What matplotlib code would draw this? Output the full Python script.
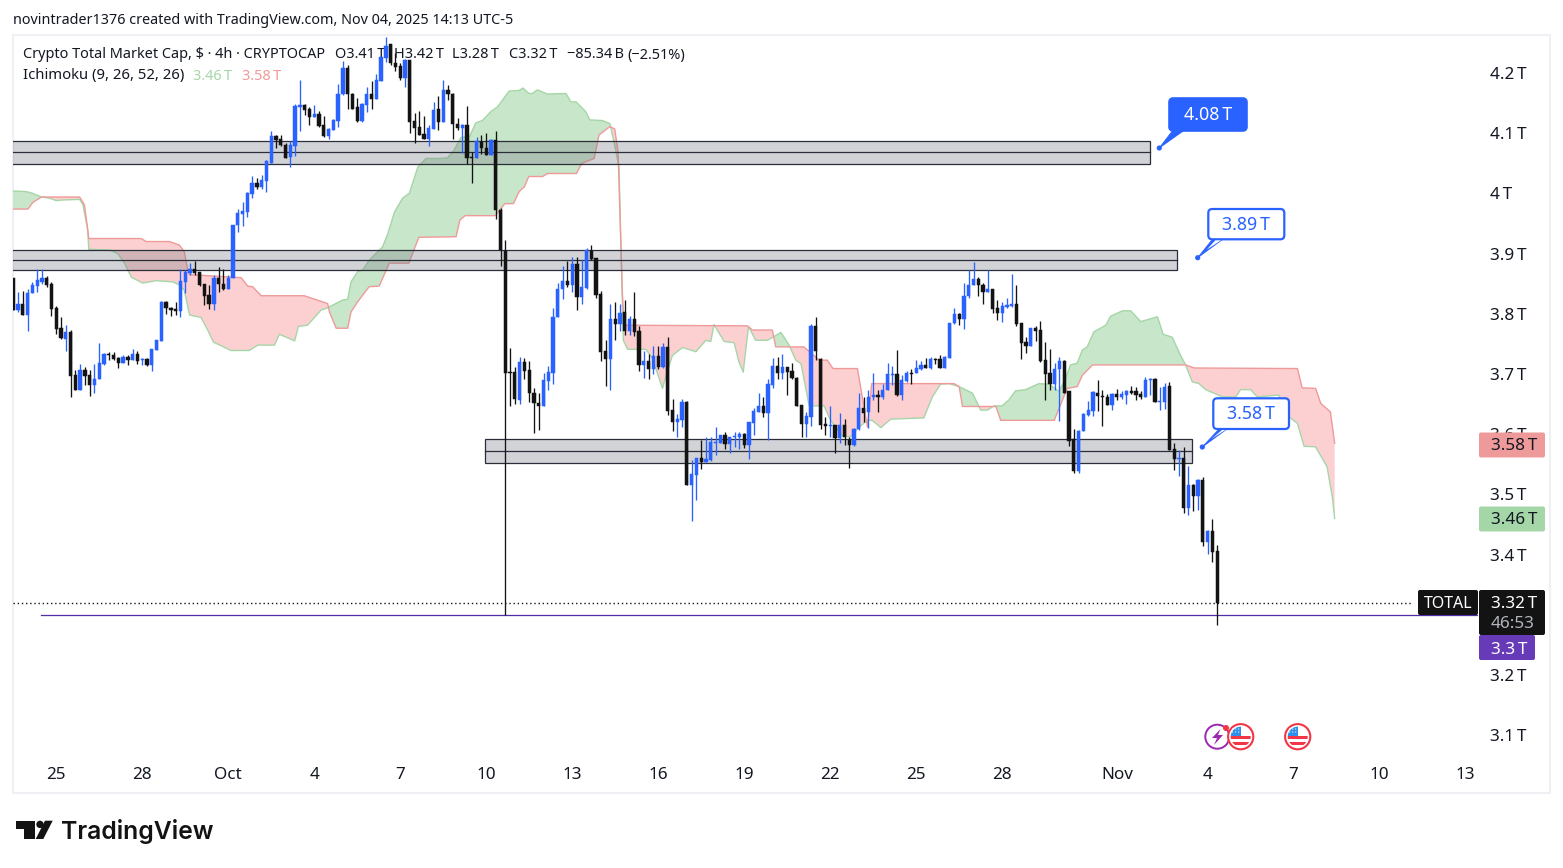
import numpy as np
import matplotlib
matplotlib.use("Agg")
import matplotlib.pyplot as plt
from matplotlib.patches import Rectangle, FancyBboxPatch, Polygon, Circle

# candles, 4h bars, values in trillions
opens = [
    3.859,3.807,3.817,3.798,3.834,3.846,3.853,3.859,3.849,3.809,
    3.776,3.758,3.770,3.698,3.674,3.707,3.698,3.681,3.692,3.716,
    3.733,3.731,3.726,3.719,3.729,3.723,3.733,3.723,3.725,3.715,
    3.740,3.755,3.820,3.810,3.808,3.804,3.853,3.867,3.874,3.869,
    3.849,3.831,3.816,3.860,3.850,3.841,3.860,3.947,3.966,3.969,
    3.999,4.017,4.011,4.021,4.051,4.096,4.090,4.081,4.060,4.079,
    4.143,4.147,4.140,4.127,4.132,4.113,4.096,4.106,4.121,4.165,
    4.208,4.165,4.143,4.121,4.147,4.165,4.157,4.187,4.225,4.248,
    4.217,4.212,4.191,4.222,4.120,4.110,4.099,4.091,4.107,4.140,
    4.118,4.172,4.165,4.116,4.109,4.113,4.061,4.058,4.085,4.076,
    4.064,4.089,3.972,3.905,3.703,3.703,3.657,3.720,3.707,3.668,
    3.652,3.647,3.689,3.702,3.794,3.841,3.854,3.848,3.883,3.828,
    3.843,3.905,3.892,3.833,3.738,3.725,3.792,3.783,3.803,3.771,
    3.792,3.771,3.715,3.722,3.708,3.730,3.712,3.744,3.640,3.621,
    3.623,3.653,3.515,3.532,3.561,3.554,3.557,3.586,3.586,3.598,
    3.584,3.595,3.596,3.601,3.582,3.618,3.637,3.646,3.636,3.682,
    3.713,3.702,3.711,3.705,3.694,3.648,3.617,3.629,3.780,3.725,
    3.617,3.614,3.616,3.593,3.615,3.591,3.582,3.608,3.643,3.637,
    3.661,3.665,3.661,3.673,3.699,3.700,3.665,3.688,3.702,3.701,
    3.709,3.715,3.710,3.725,3.725,3.710,3.727,3.784,3.800,3.791,
    3.830,3.847,3.858,3.848,3.837,3.841,3.809,3.802,3.812,3.813,
    3.817,3.784,3.753,3.746,3.777,3.773,3.723,3.701,3.684,3.708,
    3.722,3.671,3.592,3.539,3.605,3.632,3.638,3.669,3.664,3.661,
    3.648,3.667,3.662,3.665,3.671,3.671,3.667,3.662,3.690,3.692,
    3.653,3.654,3.680,3.575,3.558,3.560,3.478,3.515,3.497,3.524,
    3.421,3.439,3.406]
highs = [
    3.859,3.836,3.838,3.842,3.853,3.875,3.875,3.863,3.853,3.813,
    3.794,3.781,3.773,3.706,3.716,3.711,3.706,3.716,3.752,3.735,
    3.736,3.737,3.728,3.731,3.732,3.741,3.738,3.726,3.727,3.741,
    3.757,3.821,3.821,3.812,3.820,3.875,3.872,3.884,3.887,3.869,
    3.850,3.848,3.864,3.877,3.874,3.864,3.948,3.974,3.986,4.002,
    4.029,4.025,4.030,4.055,4.103,4.097,4.097,4.083,4.087,4.148,
    4.189,4.148,4.144,4.147,4.137,4.128,4.108,4.123,4.181,4.220,
    4.213,4.166,4.159,4.150,4.177,4.187,4.199,4.227,4.260,4.248,
    4.233,4.216,4.224,4.222,4.133,4.137,4.128,4.113,4.152,4.161,
    4.189,4.180,4.166,4.125,4.116,4.145,4.069,4.094,4.097,4.100,
    4.091,4.104,3.975,3.923,3.743,3.712,3.728,3.726,3.721,3.676,
    3.669,3.701,3.713,3.809,3.851,3.879,3.888,3.894,3.894,3.889,
    3.909,3.914,3.892,3.838,3.756,3.816,3.819,3.816,3.823,3.796,
    3.836,3.779,3.738,3.733,3.746,3.746,3.752,3.761,3.659,3.633,
    3.658,3.655,3.557,3.561,3.591,3.595,3.595,3.612,3.599,3.603,
    3.596,3.604,3.603,3.602,3.621,3.644,3.668,3.662,3.692,3.726,
    3.729,3.733,3.712,3.718,3.695,3.648,3.637,3.783,3.794,3.726,
    3.629,3.647,3.616,3.636,3.626,3.596,3.610,3.668,3.662,3.673,
    3.701,3.673,3.683,3.718,3.713,3.740,3.698,3.705,3.709,3.723,
    3.722,3.726,3.729,3.727,3.731,3.730,3.785,3.809,3.801,3.851,
    3.873,3.886,3.861,3.851,3.872,3.841,3.823,3.820,3.827,3.866,
    3.848,3.784,3.761,3.777,3.780,3.788,3.753,3.741,3.718,3.728,
    3.723,3.671,3.608,3.607,3.635,3.655,3.672,3.690,3.673,3.667,
    3.668,3.675,3.672,3.673,3.680,3.679,3.671,3.695,3.694,3.694,
    3.679,3.685,3.687,3.586,3.574,3.579,3.547,3.518,3.526,3.529,
    3.441,3.459,3.416]
lows = [
    3.807,3.803,3.798,3.772,3.834,3.836,3.849,3.845,3.797,3.767,
    3.758,3.738,3.662,3.673,3.674,3.681,3.664,3.669,3.692,3.715,
    3.723,3.723,3.710,3.718,3.715,3.723,3.717,3.715,3.713,3.705,
    3.740,3.755,3.800,3.797,3.798,3.795,3.834,3.865,3.865,3.846,
    3.814,3.808,3.806,3.836,3.839,3.841,3.860,3.936,3.946,3.961,
    3.993,4.008,4.008,4.003,4.050,4.075,4.079,4.058,4.044,4.062,
    4.104,4.130,4.113,4.127,4.111,4.094,4.091,4.105,4.111,4.163,
    4.140,4.141,4.119,4.119,4.136,4.141,4.157,4.187,4.219,4.213,
    4.204,4.188,4.176,4.101,4.083,4.097,4.090,4.079,4.107,4.106,
    4.118,4.155,4.091,4.105,4.067,4.049,4.018,4.058,4.066,4.064,
    4.064,3.957,3.879,3.300,3.646,3.650,3.650,3.692,3.654,3.602,
    3.607,3.647,3.673,3.684,3.794,3.825,3.845,3.837,3.806,3.816,
    3.842,3.889,3.827,3.722,3.680,3.673,3.756,3.771,3.765,3.765,
    3.763,3.705,3.693,3.692,3.700,3.709,3.710,3.632,3.605,3.595,
    3.612,3.515,3.455,3.490,3.542,3.553,3.555,3.565,3.585,3.575,
    3.569,3.579,3.576,3.577,3.559,3.599,3.637,3.629,3.591,3.676,
    3.692,3.692,3.665,3.692,3.646,3.595,3.595,3.614,3.724,3.609,
    3.599,3.595,3.568,3.586,3.582,3.544,3.580,3.607,3.621,3.611,
    3.656,3.637,3.659,3.673,3.682,3.663,3.657,3.687,3.684,3.701,
    3.707,3.710,3.709,3.716,3.710,3.710,3.727,3.783,3.782,3.775,
    3.826,3.847,3.830,3.816,3.837,3.801,3.790,3.787,3.809,3.812,
    3.779,3.725,3.735,3.746,3.755,3.720,3.656,3.674,3.674,3.622,
    3.669,3.581,3.536,3.535,3.605,3.631,3.631,3.638,3.614,3.648,
    3.640,3.657,3.659,3.650,3.667,3.657,3.658,3.662,3.665,3.653,
    3.640,3.642,3.574,3.540,3.531,3.469,3.466,3.473,3.474,3.415,
    3.401,3.388,3.283]
closes = [
    3.807,3.816,3.798,3.834,3.848,3.856,3.859,3.848,3.808,3.774,
    3.759,3.770,3.697,3.674,3.707,3.697,3.681,3.692,3.719,3.733,
    3.731,3.725,3.719,3.729,3.723,3.733,3.722,3.725,3.715,3.741,
    3.756,3.820,3.809,3.807,3.805,3.854,3.870,3.875,3.868,3.848,
    3.830,3.816,3.860,3.850,3.841,3.860,3.948,3.967,3.971,4.001,
    4.017,4.011,4.022,4.054,4.096,4.089,4.080,4.058,4.080,4.145,
    4.146,4.138,4.127,4.132,4.112,4.095,4.107,4.122,4.165,4.209,
    4.165,4.141,4.121,4.148,4.165,4.157,4.188,4.226,4.244,4.216,
    4.210,4.191,4.222,4.119,4.109,4.097,4.090,4.108,4.138,4.119,
    4.172,4.165,4.116,4.109,4.113,4.059,4.059,4.087,4.076,4.064,
    4.089,3.972,3.906,3.702,3.702,3.658,3.720,3.705,3.668,3.651,
    3.647,3.690,3.703,3.794,3.842,3.854,3.848,3.883,3.828,3.844,
    3.906,3.891,3.831,3.737,3.725,3.792,3.783,3.802,3.771,3.792,
    3.770,3.715,3.722,3.708,3.730,3.712,3.744,3.638,3.621,3.625,
    3.653,3.515,3.534,3.561,3.554,3.559,3.587,3.587,3.598,3.584,
    3.595,3.597,3.601,3.582,3.620,3.638,3.646,3.636,3.683,3.713,
    3.701,3.712,3.703,3.693,3.646,3.617,3.630,3.780,3.739,3.615,
    3.614,3.616,3.594,3.615,3.596,3.582,3.608,3.643,3.636,3.661,
    3.665,3.661,3.674,3.700,3.700,3.665,3.690,3.701,3.700,3.710,
    3.715,3.710,3.725,3.724,3.710,3.729,3.784,3.800,3.791,3.830,
    3.848,3.858,3.847,3.837,3.841,3.808,3.802,3.813,3.814,3.817,
    3.783,3.752,3.746,3.777,3.771,3.722,3.700,3.684,3.709,3.722,
    3.669,3.589,3.539,3.606,3.633,3.640,3.670,3.664,3.661,3.648,
    3.667,3.661,3.667,3.672,3.669,3.665,3.662,3.690,3.692,3.654,
    3.655,3.679,3.574,3.558,3.560,3.478,3.515,3.497,3.524,3.421,
    3.439,3.405,3.320]

# ichimoku lead lines, read where they bend
span_a_bar = [
    -0.1,2.7,4.1,5.9,7.6,9.0,10.4,13.9,14.6,15.6,15.8,20.2,21.9,23.3,24.7,27.1,29.9,33.4,34.8,35.8,
    36.9,39.3,40.7,41.9,45.6,49.4,51.2,54.7,55.7,58.9,59.7,61.6,64.4,65.8,69.0,70.0,70.7,72.1,73.2,74.5,
    77.3,78.4,79.8,81.5,82.9,84.7,86.4,89.2,90.9,92.3,93.7,95.5,96.8,98.2,100.0,101.4,103.8,105.9,106.7,107.9,
    108.7,109.7,111.8,115.7,116.7,117.8,119.8,120.7,123.3,124.9,125.8,126.8,127.7,128.6,132.4,133.8,135.9,137.0,138.0,140.1,
    142.9,145.0,146.0,146.7,148.8,150.9,151.9,152.8,153.9,155.4,157.9,160.7,162.4,163.8,164.9,166.6,169.7,171.1,173.6,175.3,
    177.1,178.8,179.8,181.6,183.7,190.6,192.4,194.1,195.9,198.0,200.8,202.5,203.9,205.3,207.0,208.4,209.8,211.9,214.7,216.8,
    218.9,220.3,221.3,222.7,223.8,224.8,226.2,228.7,229.7,232.2,233.9,236.0,239.5,240.7,242.6,244.4,245.4,246.8,248.2,249.6,
    253.1,255.9,256.9,259.0,260.4,264.9,267.0,268.8,270.2,272.6,275.0,276.1,276.6]
span_a = [
    4.004,4.003,4.000,3.994,3.992,3.988,3.989,3.990,3.981,3.939,3.907,3.906,3.900,3.884,3.861,3.851,3.855,3.853,3.848,3.839,
    3.798,3.794,3.773,3.753,3.739,3.739,3.748,3.748,3.766,3.755,3.779,3.781,3.806,3.810,3.823,3.824,3.853,3.870,3.873,3.889,
    3.911,3.933,3.969,3.992,4.000,4.044,4.058,4.058,4.059,4.072,4.093,4.094,4.117,4.121,4.136,4.144,4.170,4.171,4.175,4.166,
    4.166,4.172,4.165,4.166,4.152,4.152,4.136,4.122,4.121,4.116,4.083,4.044,3.756,3.741,3.741,3.726,3.676,3.707,3.731,3.744,
    3.737,3.756,3.754,3.782,3.754,3.752,3.720,3.703,3.779,3.756,3.756,3.769,3.748,3.723,3.717,3.647,3.647,3.623,3.596,3.596,
    3.612,3.623,3.623,3.611,3.625,3.627,3.662,3.683,3.684,3.679,3.668,3.640,3.640,3.647,3.647,3.657,3.672,3.674,3.684,3.683,
    3.671,3.693,3.715,3.718,3.740,3.745,3.770,3.781,3.796,3.805,3.805,3.787,3.795,3.766,3.761,3.730,3.715,3.687,3.684,3.674,
    3.662,3.662,3.674,3.674,3.662,3.665,3.629,3.618,3.580,3.579,3.546,3.496,3.460]
span_b_bar = [
    -0.1,3.1,4.1,5.9,13.9,14.9,15.6,15.8,26.8,27.8,32.7,34.8,35.8,36.5,36.9,47.7,49.1,50.1,51.9,60.9,
    65.8,66.2,67.6,70.0,70.7,72.1,74.5,76.6,78.7,82.8,84.9,92.7,93.5,94.6,100.9,102.9,104.7,105.9,107.0,107.9,
    110.8,111.8,117.9,119.0,121.6,122.6,124.9,125.9,126.6,127.2,127.5,127.9,153.7,154.7,158.9,159.6,165.5,168.7,170.4,171.6,
    176.7,178.8,179.7,196.9,198.0,198.7,205.7,206.7,217.9,220.6,222.7,223.8,225.9,245.4,247.2,268.8,269.8,272.6,273.7,275.7,276.6]
span_b = [
    3.974,3.974,3.985,3.994,3.994,3.981,3.939,3.925,3.925,3.920,3.920,3.914,3.903,3.875,3.865,3.860,3.846,3.845,3.830,3.830,
    3.817,3.803,3.776,3.776,3.803,3.820,3.845,3.846,3.884,3.884,3.927,3.928,3.956,3.963,3.963,3.983,3.983,4.003,4.011,4.028,
    4.028,4.033,4.033,4.050,4.058,4.097,4.111,4.107,4.069,3.911,3.834,3.781,3.780,3.773,3.773,3.745,3.745,3.723,3.723,3.709,
    3.709,3.612,3.684,3.684,3.679,3.646,3.646,3.623,3.623,3.676,3.679,3.698,3.715,3.715,3.710,3.709,3.677,3.676,3.651,3.637,3.585]

# drawn zones: start bar, end bar, top, middle, bottom
zone_start = [-1, -1, 98.7]
zone_end = [237.9, 243.6, 246.8]
zone_top = [4.0864, 3.9058, 3.5913]
zone_mid = [4.0681, 3.8886, 3.5713]
zone_bottom = [4.0481, 3.8720, 3.5514]

# 3.3T is covered by the countdown label in the picture
price_ticks = [3.1, 3.2, 3.4, 3.5, 3.6, 3.7, 3.8, 3.9, 4.0, 4.1, 4.2]
date_ticks = [9, 27, 45, 63, 81, 99, 117, 135, 153, 171, 189, 207, 231, 250, 268, 286, 304]
date_labels = ["25", "28", "Oct", "4", "7", "10", "13", "16", "19", "22", "25", "28", "Nov", "4", "7", "10", "13"]
last_close = 3.32
alert_level = 3.299

BLUE = "#2962ff"
BLACK = "#131313"
INK = "#131722"
W, H = 1563, 868
FONT = "Noto Sans"
TH = "\u2009"  # the T sits a little away from the digits

plt.rcParams["font.family"] = [FONT, "DejaVu Sans"]
fig = plt.figure(figsize=(W / 100, H / 100), dpi=100, facecolor="white")


def px_axes(zorder):
    a = fig.add_axes([0, 0, 1, 1], zorder=zorder)
    a.set_xlim(0, W)
    a.set_ylim(H, 0)
    a.axis("off")
    a.patch.set_alpha(0)
    return a


back = px_axes(0)
back.add_patch(Rectangle((12.5, 34.5), 1537.5, 758.5, fc="white", ec="#eff0f3", lw=1.5))

back.text(13, 20.5, "novintrader1376 created with TradingView.com, Nov 04, 2025 14:13 UTC-5",
          fontsize=10.35, color=INK, va="center")
back.text(23, 55, "Crypto Total Market Cap, $ · 4h · CRYPTOCAP", fontsize=10.45, color=INK, va="center")
for x, s in [(335, "O3.41" + TH + "T"), (394, "H3.42" + TH + "T"), (452, "L3.28" + TH + "T"), (509, "C3.32" + TH + "T"),
             (567, "−85.34" + TH + "B"), (627, "(−2.51%)")]:
    back.text(x, 55, s, fontsize=10.45, color=INK, va="center")
back.text(23, 76, "Ichimoku (9, 26, 52, 26)", fontsize=10.7, color=INK, va="center")
back.text(193, 76, "3.46" + TH + "T", fontsize=10.45, color="#a5d6a7", va="center")
back.text(242, 76, "3.58" + TH + "T", fontsize=10.45, color="#ef9a9a", va="center")

# price pane
ax = fig.add_axes([13 / W, 1 - 758 / H, (1478 - 13) / W, (758 - 35) / H], zorder=1)
ax.patch.set_alpha(0)
ax.set_xlim(-0.05, 306.6)
ax.set_ylim(3.0621, 4.2631)
for s in ax.spines.values():
    s.set_visible(False)

# cloud
grid = np.linspace(span_a_bar[0], span_a_bar[-1], 3000)
a_line = np.interp(grid, span_a_bar, span_a)
b_line = np.interp(grid, span_b_bar, span_b)
ax.fill_between(grid, a_line, b_line, where=a_line >= b_line, color="#c8e6c9", lw=0, zorder=1, interpolate=True)
ax.fill_between(grid, a_line, b_line, where=a_line <= b_line, color="#fcd0d0", lw=0, zorder=1, interpolate=True)
ax.plot(span_a_bar, span_a, color="#a5d6a7", lw=1.0, zorder=1.2)
ax.plot(span_b_bar, span_b, color="#ef9a9a", lw=1.0, zorder=1.3)

# zones
for x0, x1, top_v, mid, bot in zip(zone_start, zone_end, zone_top, zone_mid, zone_bottom):
    ax.add_patch(Rectangle((x0, bot), x1 - x0, top_v - bot, fc="#787b86", alpha=0.33, ec="none", zorder=2))
    ax.add_patch(Rectangle((x0, bot), x1 - x0, top_v - bot, fc="none", ec="#2a2e39", lw=0.9, zorder=2.1))
    ax.plot([x0, x1], [mid, mid], color="#2a2e39", lw=0.9, zorder=2.1)

ax.plot([0, 292.5], [last_close] * 2, color=BLACK, lw=1.0, ls=(0, (1, 2)), zorder=2.5)
ax.plot([5.9, 306.6], [alert_level] * 2, color="#512da8", lw=0.9, zorder=2.5)

# candles
bars = np.arange(len(closes))
o = np.array(opens)
c = np.array(closes)
colors = [BLUE if up else BLACK for up in c >= o]
ax.vlines(bars, lows, highs, colors=colors, lw=0.95, zorder=3)
ax.bar(bars, np.abs(c - o), bottom=np.minimum(o, c), width=0.68, color=colors,
       edgecolor=colors, lw=0.35, zorder=3.1)

# axes labels
ax.yaxis.tick_right()
ax.set_yticks(price_ticks)
ax.set_yticklabels([f"{v:g}{TH}T" for v in price_ticks], fontsize=12.3, color=INK)
ax.set_xticks(date_ticks)
ax.set_xticklabels(date_labels, fontsize=12.3, color=INK)
ax.tick_params(axis="y", length=0, pad=8.5)
ax.tick_params(axis="x", length=0, pad=6.2)

top = px_axes(2)


def label_box(x0, y0, x1, y1, fc):
    top.add_patch(FancyBboxPatch((x0 + 1, y0 + 1), x1 - x0 - 2, y1 - y0 - 2,
                                 boxstyle="round,pad=1,rounding_size=2", fc=fc, ec="none", zorder=3))


def callout(x0, y0, x1, y1, dot, tail, text, filled):
    fc = BLUE if filled else "white"
    top.add_patch(Polygon([dot, (tail[0], y1 - 1), (tail[1], y1 - 1)], closed=True, fc=BLUE, ec=BLUE, lw=0.6, zorder=4))
    top.add_patch(FancyBboxPatch((x0 + 4, y0 + 4), x1 - x0 - 8, y1 - y0 - 8,
                                 boxstyle="round,pad=4,rounding_size=4", fc=fc, ec=BLUE, lw=1.6, zorder=5))
    if not filled:
        top.add_patch(Polygon([(dot[0] + 9, dot[1] - 8), (tail[0] + 2, y1 + 1), (tail[1] - 3, y1 + 1)],
                              closed=True, fc="white", ec="none", zorder=5.5))
    top.add_patch(Circle(dot, 2.6, fc=BLUE, ec="none", zorder=6))
    top.text((x0 + x1) / 2, (y0 + y1) / 2 + 0.5, text, color="white" if filled else BLUE, fontsize=12.8,
             fontweight="semibold", ha="center", va="center", zorder=6)


callout(1169.3, 98.3, 1246.7, 130.7, (1159.3, 148), (1173.3, 1185), "4.08" + TH + "T", True)
callout(1208.3, 209, 1284.3, 239.3, (1197.7, 257.7), (1213.3, 1224), "3.89" + TH + "T", False)
callout(1213.3, 398.3, 1289, 429, (1202.3, 447), (1220, 1228.3), "3.58" + TH + "T", False)

# price scale labels
label_box(1479, 432.5, 1545, 457.5, "#ef9a9a")
top.text(1491, 446.5, "3.58" + TH + "T", fontsize=12.3, color=INK, va="center", zorder=4)
label_box(1479, 506.5, 1545, 531.5, "#a5d6a7")
top.text(1491, 520.5, "3.46" + TH + "T", fontsize=12.3, color=INK, va="center", zorder=4)
label_box(1418, 590, 1478, 615, BLACK)
top.text(1448, 604.5, "TOTAL", fontsize=11.5, color="white", ha="center", va="center", zorder=4)
label_box(1479, 635, 1535, 660, "#673ab7")
top.text(1491, 649.5, "3.3" + TH + "T", fontsize=12.3, color="white", va="center", zorder=4)
label_box(1479, 590, 1545, 635, BLACK)
top.text(1491, 604.5, "3.32" + TH + "T", fontsize=12.3, color="white", va="center", zorder=4)
top.text(1491, 624, "46:53", fontsize=12.3, color="#b2b5be", va="center", zorder=4)

# event icons
top.add_patch(Circle((1217.3, 736.7), 12, fc="white", ec="#9c27b0", lw=1.4, zorder=3))
top.add_patch(Polygon([(1220.5, 729), (1212, 738), (1217, 738), (1214, 745), (1223, 735), (1218, 735)],
                      closed=True, fc="#9c27b0", ec="none", zorder=3.1))
top.add_patch(Circle((1226, 728), 3, fc="#f23645", ec="none", zorder=5))
for cx in (1240.7, 1297.7):
    ring = Circle((cx, 736.7), 12.6, fc="white", ec="#f23645", lw=1.5, zorder=3.5)
    top.add_patch(ring)
    inner = Circle((cx, 736.7), 10, transform=top.transData)
    for y, col in [(736, "#f23645"), (742, "#f23645")]:
        r = Rectangle((cx - 11, y), 22, 3, fc=col, ec="none", zorder=3.6)
        top.add_patch(r)
        r.set_clip_path(inner)
    r = Rectangle((cx - 11, 726), 11, 9.5, fc="#2e8fea", ec="none", zorder=3.7)
    top.add_patch(r)
    r.set_clip_path(inner)
    for dx in (-8, -5, -2):
        for dy in (729, 732):
            top.add_patch(Circle((cx + dx, dy), 0.6, fc="white", ec="none", zorder=3.8))

# logo
top.add_patch(Polygon([(15.7, 820.7), (35, 820.7), (35, 839), (23.5, 839), (23.5, 828.5), (15.7, 828.5)],
                      closed=True, fc=BLACK, ec="none"))
top.add_patch(Circle((40, 824.4), 3.7, fc=BLACK, ec="none"))
top.add_patch(Polygon([(45, 820.7), (52.7, 820.7), (43.3, 839), (35.7, 839)], closed=True, fc=BLACK, ec="none"))
top.text(61, 831, "TradingView", fontfamily="Inter", fontweight="semibold", fontsize=17.8, color=BLACK, va="center")

fig.savefig("out.png", dpi=100, facecolor="white")
